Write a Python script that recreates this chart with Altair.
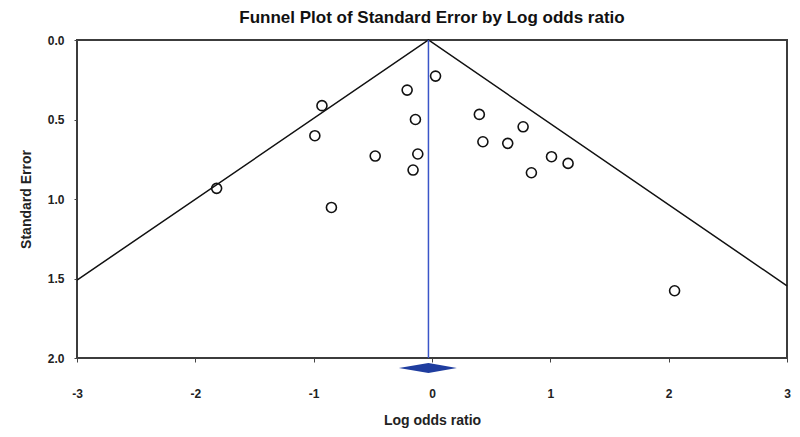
import altair as alt
import pandas as pd

# Study-level data
log_or = [0.03, -0.93, -0.21, -0.14, -0.99, -0.48, -0.12, -0.16, -1.82, -0.85,
          0.40, 0.77, 0.43, 0.64, 1.01, 1.15, 0.84, 2.05]
std_err = [0.227, 0.413, 0.315, 0.50, 0.602, 0.73, 0.717, 0.818, 0.933, 1.053,
           0.468, 0.546, 0.64, 0.65, 0.734, 0.776, 0.835, 1.577]

# Funnel (pseudo 95% limits)
funnel_x = [-3.0, -0.03, 3.0]
funnel_se = [1.51, 0.0, 1.546]

# Pooled estimate line
pooled_x = [-0.03, -0.03]
pooled_se = [0.0, 2.0]

# Summary diamond
diamond_x = [-0.28, -0.03, 0.21]
diamond_top = [2.063, 2.031, 2.063]
diamond_bottom = [2.063, 2.095, 2.063]

x_ticks = [-3, -2, -1, 0, 1, 2, 3]
y_ticks = [0.0, 0.5, 1.0, 1.5, 2.0]

FONT = "Liberation Sans"

pts = pd.DataFrame({"x": log_or, "se": std_err})
fun = pd.DataFrame({"x": funnel_x, "se": funnel_se})
pool = pd.DataFrame({"x": pooled_x, "se": pooled_se})
dia = pd.DataFrame({"x": diamond_x, "top": diamond_top, "bottom": diamond_bottom})

xscale = alt.Scale(domain=[-3, 3], nice=False, zero=False)
yscale = alt.Scale(domain=[0, 2], reverse=True, nice=False, zero=False)

xaxis = alt.Axis(values=x_ticks, labelExpr="'' + datum.value", title="Log odds ratio",
                 grid=False, domain=False, tickSize=4, tickColor="#444",
                 labelFlush=False, labelOverlap=False,
                 labelFont=FONT, labelFontSize=12, labelFontWeight="bold", labelColor="#222",
                 labelPadding=26, titleFont=FONT, titleFontSize=14, titleFontWeight="bold",
                 titleColor="#222", titlePadding=14)
yaxis = alt.Axis(values=y_ticks, format=".1f", title="Standard Error",
                 grid=False, domain=False, tickSize=3, tickColor="#444",
                 labelFlush=False, labelOverlap=False,
                 labelFont=FONT, labelFontSize=12, labelFontWeight="bold", labelColor="#222",
                 labelPadding=10, titleFont=FONT, titleFontSize=14, titleFontWeight="bold",
                 titleColor="#222", titlePadding=14)

funnel = alt.Chart(fun).mark_line(color="#111", strokeWidth=1.5).encode(
    x=alt.X("x:Q", scale=xscale, axis=xaxis),
    y=alt.Y("se:Q", scale=yscale, axis=yaxis),
    order=alt.Order("x:Q"),
)

pooled = alt.Chart(pool).mark_line(color="#3a55c8", strokeWidth=1.5).encode(
    x=alt.X("x:Q", scale=xscale),
    y=alt.Y("se:Q", scale=yscale),
)

diamond = alt.Chart(dia).mark_area(color="#1f3d9f", opacity=1).encode(
    x=alt.X("x:Q", scale=xscale),
    y=alt.Y("top:Q", scale=yscale),
    y2="bottom:Q",
)

points = alt.Chart(pts).mark_point(shape="circle", filled=False, size=100,
                                   strokeWidth=1.6, color="#111", opacity=1).encode(
    x=alt.X("x:Q", scale=xscale),
    y=alt.Y("se:Q", scale=yscale),
)

chart = alt.layer(funnel, pooled, diamond, points).properties(
    width=710,
    height=318,
    title=alt.TitleParams("Funnel Plot of Standard Error by Log odds ratio",
                          font=FONT, fontSize=17, fontWeight="bold", color="#111",
                          anchor="middle", frame="group", offset=7),
    autosize=alt.AutoSizeParams(type="none"),
    padding={"left": 69, "top": 32, "right": 5, "bottom": 71},
).configure_view(stroke="#3c3c3c", strokeWidth=2)

chart.save("out.html", embed_options={"renderer": "svg", "actions": False})
